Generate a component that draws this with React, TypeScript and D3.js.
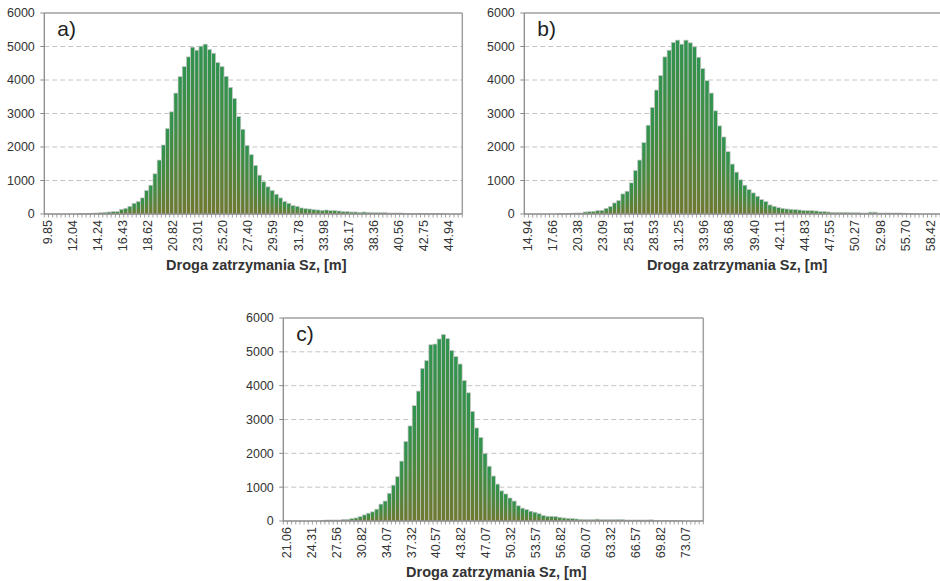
import React from "react";
import * as d3 from "d3";

// ---------- DATA ----------
const valuesA: number[] = [
  0, 0, 0, 0, 0, 0, 0, 0, 15, 20,
  20, 25, 30, 40, 50, 60, 70, 70, 140, 170,
  230, 320, 370, 480, 700, 860, 1200, 1610, 2060, 2550,
  3050, 3610, 4100, 4400, 4690, 4980, 4890, 5010, 5070, 4910,
  4800, 4520, 4400, 4110, 3780, 3450, 2910, 2530, 2050, 1770,
  1450, 1160, 960, 810, 700, 590, 480, 370, 320, 250,
  230, 180, 160, 150, 130, 120, 110, 120, 100, 100,
  90, 70, 70, 60, 60, 50, 60, 50, 40, 40,
  40, 40, 30, 30, 30, 30, 20, 20, 20, 20,
  10, 10, 15, 10, 10, 5, 0, 0, 0, 0,
];

const valuesB: number[] = [
  0, 0, 0, 0, 0, 0, 0, 0, 20, 20,
  20, 25, 30, 30, 60, 70, 80, 100, 110, 170,
  220, 330, 400, 600, 680, 930, 1300, 1610, 2130, 2650,
  3180, 3700, 4130, 4690, 4890, 5120, 5190, 5070, 5190, 5110,
  4990, 4680, 4340, 3980, 3610, 3080, 2630, 2300, 1860, 1490,
  1250, 1020, 860, 730, 630, 530, 430, 370, 270, 230,
  190, 170, 150, 140, 130, 120, 110, 100, 100, 90,
  70, 70, 60, 50, 50, 50, 50, 40, 40, 40,
  30, 30, 55, 55, 30, 30, 30, 30, 30, 30,
  25, 10, 10, 5, 0, 0, 0, 0, 0, 0,
];

const valuesC: number[] = [
  0, 0, 0, 0, 0, 0, 0, 0, 0, 20,
  30, 30, 30, 30, 50, 50, 70, 90, 130, 180,
  230, 270, 350, 500, 590, 820, 1060, 1310, 1770, 2350,
  2810, 3410, 3840, 4510, 4740, 5210, 5230, 5380, 5510, 5390,
  5040, 4860, 4640, 4150, 3790, 3240, 2750, 2470, 1990, 1620,
  1330, 1090, 890, 800, 680, 590, 450, 380, 340, 290,
  260, 215, 165, 140, 140, 130, 110, 90, 80, 70,
  60, 50, 45, 40, 45, 55, 40, 40, 40, 40,
  45, 45, 30, 30, 30, 30, 30, 30, 35, 20,
  15, 15, 10, 10, 10, 5, 0, 0, 0, 0,
  0,
];

const ticksA: string[] = ["9.85", "12.04", "14.24", "16.43", "18.62", "20.82", "23.01", "25.20", "27.40", "29.59", "31.78", "33.98", "36.17", "38.36", "40.56", "42.75", "44.94"];
const ticksB: string[] = ["14.94", "17.66", "20.38", "23.09", "25.81", "28.53", "31.25", "33.96", "36.68", "39.40", "42.11", "44.83", "47.55", "50.27", "52.98", "55.70", "58.42"];
const ticksC: string[] = ["21.06", "24.31", "27.56", "30.82", "34.07", "37.32", "40.57", "43.82", "47.07", "50.32", "53.57", "56.82", "60.07", "63.32", "66.57", "69.82", "73.07"];

const yTicks: number[] = [0, 1000, 2000, 3000, 4000, 5000, 6000];
const panelLabels: string[] = ["a)", "b)", "c)"];
const xTitle = "Droga zatrzymania Sz, [m]";
const LABEL_EVERY = 6;

// ---------- LAYOUT ----------
const FONT = "'Liberation Sans', Arial, sans-serif";

type PanelProps = {
  values: number[];
  ticks: string[];
  label: string;
  left: number;
  top: number;
  width: number;
  height: number;
  gid: string;
};

function Panel({ values, ticks, label, left, top, width, height, gid }: PanelProps) {
  const x = d3
    .scaleBand<number>()
    .domain(values.map((_, i) => i))
    .range([left, left + width])
    .paddingInner(0)
    .paddingOuter(0);
  const y = d3.scaleLinear().domain([0, 6000]).range([top + height, top]);
  const bw = x.bandwidth();
  const bottom = top + height;
  const right = left + width;

  return (
    <g>
      {yTicks
        .filter((t) => t > 0 && t < 6000)
        .map((t) => (
          <line
            key={"g" + t}
            x1={left}
            x2={right}
            y1={y(t)}
            y2={y(t)}
            stroke="#c4c4c4"
            strokeWidth={1}
            strokeDasharray="5 3"
          />
        ))}
      {values.map((v, i) =>
        v > 0 ? (
          <rect
            key={"b" + i}
            x={x(i)!}
            y={y(v)}
            width={bw}
            height={bottom - y(v)}
            fill={`url(#${gid})`}
            stroke="#c8c8c8"
            strokeWidth={0.7}
          />
        ) : null
      )}
      <line x1={left} x2={right} y1={top} y2={top} stroke="#a0a0a0" strokeWidth={1.5} />
      <line x1={right} x2={right} y1={top} y2={bottom} stroke="#a0a0a0" strokeWidth={1.5} />
      <line x1={left} x2={left} y1={top} y2={bottom} stroke="#8a8a8a" strokeWidth={1.3} />
      <line x1={left} x2={right} y1={bottom} y2={bottom} stroke="#8a8a8a" strokeWidth={1.3} />
      {yTicks.map((t) => (
        <g key={"y" + t}>
          <line x1={left - 4} x2={left} y1={y(t)} y2={y(t)} stroke="#8a8a8a" strokeWidth={1} />
          <text
            x={left - 9.5}
            y={y(t)}
            dy="0.35em"
            textAnchor="end"
            fontFamily={FONT}
            fontSize={12.5}
            fill="#333"
          >
            {t}
          </text>
        </g>
      ))}
      {d3.range(values.length + 1).map((i) => (
        <line
          key={"xt" + i}
          x1={left + i * bw}
          x2={left + i * bw}
          y1={bottom}
          y2={bottom + 3.5}
          stroke="#8a8a8a"
          strokeWidth={0.8}
        />
      ))}
      {ticks.map((t, k) => {
        const cx = x(k * LABEL_EVERY)! + bw / 2 + 1;
        const ty = bottom + 6;
        return (
          <text
            key={"xl" + k}
            transform={`translate(${cx},${ty}) rotate(-90)`}
            dy="0.35em"
            textAnchor="end"
            fontFamily={FONT}
            fontSize={12.5}
            fill="#333"
          >
            {t}
          </text>
        );
      })}
      <text
        x={(left + Math.min(right, 944)) / 2 + 3}
        y={bottom + 56}
        textAnchor="middle"
        fontFamily={FONT}
        fontSize={14.5}
        fontWeight="bold"
        fill="#333"
      >
        {xTitle}
      </text>
      <text x={left + 13} y={top + 23} fontFamily={FONT} fontSize={21} fill="#222">
        {label}
      </text>
    </g>
  );
}

export default function App() {
  return (
    <svg
      width={940}
      height={581}
      viewBox="0 0 940 581"
      style={{ position: "absolute", left: 0, top: 0, background: "#fff" }}
    >
      <defs>
        {["ga", "gb", "gc"].map((id) => (
          <linearGradient key={id} id={id} x1="0" y1="0" x2="0" y2="1">
            <stop offset="0" stopColor="#2f9450" />
            <stop offset="0.5" stopColor="#4a8a3f" />
            <stop offset="1" stopColor="#6e7a30" />
          </linearGradient>
        ))}
      </defs>
      <rect x={0} y={0} width={940} height={581} fill="#fff" />
      <Panel values={valuesA} ticks={ticksA} label={panelLabels[0]} left={44.3} top={13} width={418} height={201} gid="ga" />
      <Panel values={valuesB} ticks={ticksB} label={panelLabels[1]} left={524.3} top={13} width={420} height={201} gid="gb" />
      <Panel values={valuesC} ticks={ticksC} label={panelLabels[2]} left={283.3} top={318} width={420} height={203} gid="gc" />
    </svg>
  );
}
